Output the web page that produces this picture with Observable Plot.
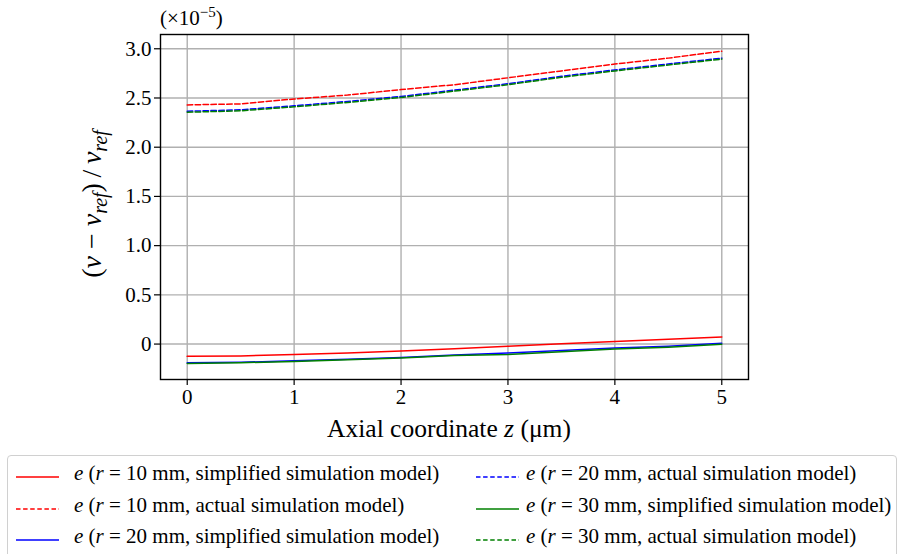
<!DOCTYPE html>
<html><head><meta charset="utf-8">
<script src="https://cdn.jsdelivr.net/npm/d3@7"></script>
<script src="https://cdn.jsdelivr.net/npm/@observablehq/plot@0.6"></script>
<style>
body{margin:0;background:#fff;font-family:"Liberation Serif","Times New Roman",serif;}
#chart{position:absolute;left:0;top:0;}
#chart svg, #chart svg text{font-family:"Liberation Serif","Times New Roman",serif !important;}
#legend{position:absolute;left:7px;top:455px;width:890px;height:110px;border:1.5px solid #d0d0d0;border-radius:4px;box-sizing:border-box;background:#fff;}
.sw{position:absolute;width:43px;height:10px;}
.lt{position:absolute;font-size:21px;line-height:24px;white-space:nowrap;color:#000;font-family:"Liberation Serif","Times New Roman",serif;}
</style></head><body>
<div id="chart"></div><div id="legend"></div>
<script>
// Axial coordinate z (µm)
const zValues = [0, 0.5, 1, 1.5, 2, 2.5, 3, 3.5, 4, 4.5, 5];
// (ν − ν_ref)/ν_ref  (×1e-5)
const r10Simplified = [-0.125, -0.12, -0.105, -0.09, -0.07, -0.047, -0.022, 0.002, 0.027, 0.05, 0.073];
const r10Actual     = [2.43, 2.44, 2.49, 2.53, 2.585, 2.635, 2.705, 2.775, 2.845, 2.905, 2.975];
const r20Simplified = [-0.19, -0.185, -0.17, -0.155, -0.137, -0.11, -0.09, -0.065, -0.04, -0.022, 0.008];
const r20Actual     = [2.365, 2.38, 2.42, 2.465, 2.515, 2.58, 2.645, 2.72, 2.785, 2.845, 2.905];
const r30Simplified = [-0.197, -0.19, -0.176, -0.16, -0.142, -0.117, -0.105, -0.078, -0.05, -0.032, -0.002];
const r30Actual     = [2.355, 2.37, 2.41, 2.455, 2.505, 2.57, 2.635, 2.71, 2.775, 2.835, 2.895];
const xTicks = [0, 1, 2, 3, 4, 5];
const yTicks = [0, 0.5, 1.0, 1.5, 2.0, 2.5, 3.0];

const seriesList = [
  {r: 10, model: "simplified", values: r10Simplified, color: "#ff0000", dash: null},
  {r: 10, model: "actual", values: r10Actual, color: "#ff0000", dash: "5.5,2.4"},
  {r: 20, model: "simplified", values: r20Simplified, color: "#0000ff", dash: null},
  {r: 20, model: "actual", values: r20Actual, color: "#0000ff", dash: "5.5,2.4"},
  {r: 30, model: "simplified", values: r30Simplified, color: "#008000", dash: null},
  {r: 30, model: "actual", values: r30Actual, color: "#008000", dash: "5.5,2.4"}
];

const lineMarks = seriesList.map(s => {
  const data = zValues.map((z, i) => ({z, v: s.values[i]}));
  const opts = {x: "z", y: "v", stroke: s.color, strokeWidth: 1.5};
  if (s.dash) opts.strokeDasharray = s.dash;
  return Plot.line(data, opts);
});

const plot = Plot.plot({
  width: 898,
  height: 445,
  marginLeft: 160,
  marginRight: 150,
  marginTop: 34,
  marginBottom: 66,
  style: {fontFamily: "Liberation Serif", fontSize: "21px", background: "white", color: "black"},
  x: {domain: [-0.25, 5.25]},
  y: {domain: [-0.36, 3.145]},
  marks: [
    Plot.gridX(xTicks, {stroke: "#b0b0b0", strokeOpacity: 1, strokeWidth: 1.4}),
    Plot.gridY(yTicks, {stroke: "#b0b0b0", strokeOpacity: 1, strokeWidth: 1.4}),
    ...lineMarks,
    Plot.frame({stroke: "black", strokeWidth: 1.4}),
    Plot.axisX(xTicks, {tickSize: 6, tickPadding: 4, label: null, fontSize: 21, strokeWidth: 1.2}),
    Plot.axisY(yTicks, {tickSize: 6, tickPadding: 3, label: null, fontSize: 21, strokeWidth: 1.2,
      tickFormat: d => d === 0 ? "0" : d.toFixed(1)})
  ]
});
document.getElementById("chart").appendChild(plot);

const svg = d3.select(plot);
// multiplier
const mult = svg.append("text").attr("x", 160).attr("y", 25).attr("text-anchor", "start")
  .attr("font-size", 21).attr("fill", "black");
mult.append("tspan").text("(×10");
mult.append("tspan").attr("dy", -8).attr("font-size", 15).text("−5");
mult.append("tspan").attr("dy", 8).text(")");

// x label
const xl = svg.append("text").attr("x", 449).attr("y", 437).attr("text-anchor", "middle")
  .attr("font-size", 25.5).attr("fill", "black");
xl.append("tspan").text("Axial coordinate ");
xl.append("tspan").attr("font-style", "italic").text("z");
xl.append("tspan").text(" (μm)");

// y label
const yl = svg.append("text").attr("transform", "translate(101,204) rotate(-90)")
  .attr("text-anchor", "middle").attr("font-size", 28).attr("fill", "black");
yl.append("tspan").text("(");
yl.append("tspan").attr("font-style", "italic").text("ν");
yl.append("tspan").text("\u2005−\u2005");
yl.append("tspan").attr("font-style", "italic").text("ν");
yl.append("tspan").attr("font-style", "italic").attr("font-size", 20).attr("dy", 6).text("ref");
yl.append("tspan").attr("dy", -6).text(")\u2009/\u2009");
yl.append("tspan").attr("font-style", "italic").text("ν");
yl.append("tspan").attr("font-style", "italic").attr("font-size", 20).attr("dy", 6).text("ref");

// legend
const legend = document.getElementById("legend");
const cols = [{lineX: 8, textX: 66, order: [0, 1, 2]}, {lineX: 468, textX: 518, order: [3, 4, 5]}];
const rowCenters = [17, 49, 80];
cols.forEach(col => {
  col.order.forEach((idx, row) => {
    const s = seriesList[idx];
    const dash = s.dash ? `stroke-dasharray="4.5,2.6"` : "";
    const sw = document.createElement("div");
    sw.className = "sw";
    sw.style.left = col.lineX + "px";
    sw.style.top = (rowCenters[row] - 5) + "px";
    sw.innerHTML = `<svg width="43" height="10"><line x1="0" y1="5" x2="43" y2="5" stroke="${s.color}" stroke-width="1.5" ${dash}/></svg>`;
    legend.appendChild(sw);
    const t = document.createElement("div");
    t.className = "lt";
    t.style.left = col.textX + "px";
    t.style.top = (rowCenters[row] - 12) + "px";
    t.innerHTML = `<i>e</i> (<i>r</i> = ${s.r} mm, ${s.model} simulation model)`;
    legend.appendChild(t);
  });
});
</script>
</body></html>
